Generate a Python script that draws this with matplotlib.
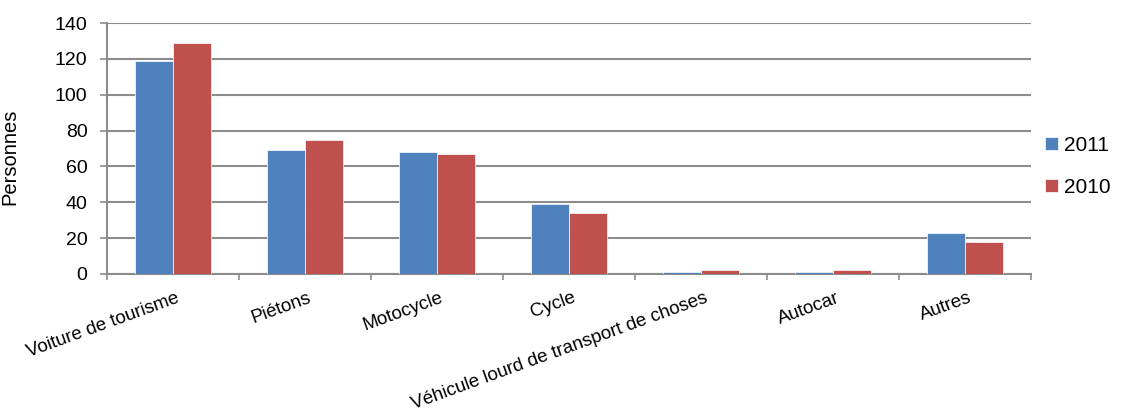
import numpy as np
import matplotlib
matplotlib.use("Agg")
import matplotlib.pyplot as plt

plt.rcParams['font.family'] = ['Liberation Sans', 'DejaVu Sans']

categories = ['Voiture de tourisme', 'Piétons', 'Motocycle', 'Cycle',
              'Véhicule lourd de transport de choses', 'Autocar', 'Autres']
vals_2011 = [119, 69, 68, 39, 1, 1, 23]
vals_2010 = [129, 75, 67, 34, 2, 2, 18]
y_ticks = [0, 20, 40, 60, 80, 100, 120, 140]

blue = '#4f81bd'
red = '#c0504d'
grid_col = '#8c8c8c'

fig = plt.figure(figsize=(11.28, 4.08), dpi=100)
ax = fig.add_axes([107 / 1128, 1 - 274 / 408, (1031 - 107) / 1128, (274 - 23) / 408])

x = np.arange(len(categories))
w = 0.285
ax.bar(x - w / 2, vals_2011, w, color=blue, edgecolor='white', linewidth=0.5, label='2011', zorder=3)
ax.bar(x + w / 2, vals_2010, w, color=red, edgecolor='white', linewidth=0.5, label='2010', zorder=3)

ax.set_xlim(-0.5, len(categories) - 0.5)
ax.set_ylim(0, 140)
ax.set_yticks(y_ticks)
ax.tick_params(axis='y', labelsize=14, length=5, pad=9, color=grid_col, width=1.2, direction='out')
ax.yaxis.grid(True, color=grid_col, linewidth=1.5, zorder=0)

# ticks between categories, labels at centres
ax.set_xticks(np.arange(len(categories) + 1) - 0.5)
ax.set_xticklabels([])
ax.tick_params(axis='x', length=4, color=grid_col, width=1.2, direction='out')
for i, lab in enumerate(categories):
    ax.annotate(lab, xy=(i, 0), xycoords=('data', 'axes fraction'),
                xytext=(2, -11), textcoords='offset points',
                ha='right', va='top', rotation=20, rotation_mode='anchor',
                fontsize=13.5)

for s in ['top', 'right']:
    ax.spines[s].set_visible(False)
for s in ['left', 'bottom']:
    ax.spines[s].set_color(grid_col)
    ax.spines[s].set_linewidth(1.5)

ax.set_ylabel('Personnes', fontsize=14.5)
ax.yaxis.set_label_coords(-0.095, 0.465)

ax.legend(loc='center left', bbox_to_anchor=(0.995, 0.43), frameon=False, fontsize=15,
          handlelength=0.6, handleheight=0.6, handletextpad=0.3, labelspacing=1.1)

fig.savefig('out.png', dpi=100)
